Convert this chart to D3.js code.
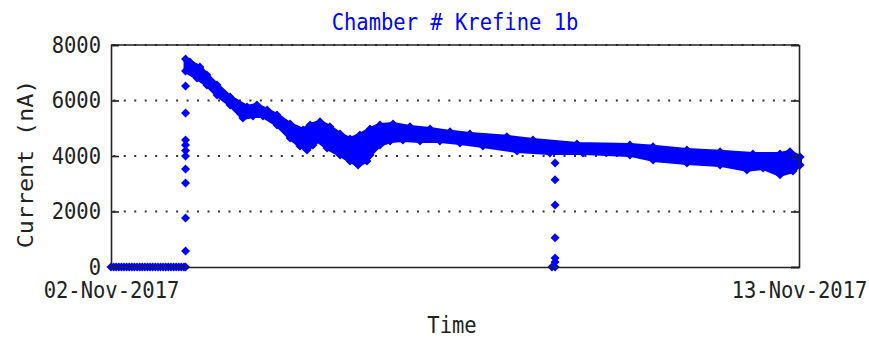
<!DOCTYPE html>
<html>
<head>
<meta charset="utf-8">
<script src="https://cdn.jsdelivr.net/npm/d3@7"></script>
<style>
  body { margin: 0; background: #fff; }
  svg { display: block; }
  text { font-family: "DejaVu Sans Mono", monospace; font-size: 20.5px; fill: #222; }
</style>
</head>
<body>
<script>
"use strict";

// chart values (hours after 02-Nov-2017 00:00, current in nA)
const title = "Chamber # Krefine 1b";
const startDay = new Date(2017, 10, 2);
const endDay = new Date(2017, 10, 13);
const yTicks = [0, 2000, 4000, 6000, 8000];
const gridValues = [2000, 4000, 6000, 8000];

// samples sitting at zero before the beam came up
const zeroHours = [
    0, 1, 2, 3, 4, 5, 6, 7, 8, 9, 10, 11, 12, 13, 14, 15,
    16, 17, 18, 19, 20, 21, 22, 23, 24, 25, 26, 27, 28, 28.6
];

// isolated points while the current ramps up / drops out
const rampPoints = [
    [28.6, 580], [28.6, 1770], [28.6, 3030], [28.6, 3530], [28.6, 4000],
    [28.6, 4200], [28.6, 4400], [28.6, 4580], [28.6, 5550], [28.6, 6520]
];
const dropPoints = [
    [169.2, 0], [170.4, 0], [170.4, 180], [170.4, 320], [170.4, 1050],
    [170.4, 2230], [170.4, 3140], [170.4, 3750]
];

// upper and lower edge of the dense band of readings
const bandTop = [
    [28.6, 7500], [30.3, 7390], [34.1, 7210], [36.8, 6920], [40.7, 6560],
    [45.7, 6130], [52.2, 5770], [56.0, 5840], [59.9, 5660], [63.7, 5480],
    [68.7, 5150], [73.7, 4940], [76.4, 5120], [80.2, 5230], [84.0, 5050],
    [87.9, 4790], [91.7, 4610], [95.5, 4760], [99.4, 4970], [103.2, 5120],
    [108.2, 5150], [114.7, 5050], [122.4, 4970], [130.1, 4870], [137.7, 4790],
    [151.9, 4690], [161.9, 4580], [178.8, 4430], [199.1, 4400], [208.0, 4330],
    [221.0, 4220], [233.7, 4150], [246.3, 4070], [256.7, 4070], [260.5, 4150],
    [264.4, 3960]
];
const bandBottom = [
    [28.6, 7060], [33.0, 6810], [36.8, 6560], [40.7, 6200], [45.7, 5840],
    [50.6, 5370], [54.5, 5440], [58.3, 5440], [63.7, 5120], [68.7, 4650],
    [72.5, 4360], [75.2, 4220], [77.5, 4400], [79.0, 4580], [82.9, 4290],
    [87.9, 4040], [91.7, 3820], [94.8, 3680], [98.2, 3820], [99.4, 4040],
    [103.2, 4400], [107.1, 4540], [112.0, 4580], [118.6, 4540], [126.2, 4540],
    [133.9, 4470], [142.7, 4360], [155.8, 4180], [168.4, 4110], [181.1, 4110],
    [199.1, 4040], [208.0, 3860], [221.0, 3750], [233.7, 3680], [244.0, 3500],
    [250.2, 3570], [256.7, 3320], [261.7, 3460], [264.4, 3680]
];

const width = 869, height = 338;
const margin = { top: 45, right: 70, bottom: 71, left: 111 };
const plotW = width - margin.left - margin.right;
const plotH = height - margin.top - margin.bottom;
const blue = "#0000ff";
const stretch = "scale(1,1.14)";

const toDate = h => new Date(+startDay + h * 3600e3);

const x = d3.scaleTime().domain([startDay, endDay]).range([0, plotW]);
const y = d3.scaleLinear().domain([0, 8000]).range([plotH, 0]);

const svg = d3.select("body").append("svg")
    .attr("width", width)
    .attr("height", height);

svg.append("rect").attr("width", width).attr("height", height).attr("fill", "#fff");

const g = svg.append("g").attr("transform", `translate(${margin.left},${margin.top})`);

// dotted grid, behind the data
g.append("g").selectAll("line").data(gridValues).join("line")
    .attr("x1", 2.3).attr("x2", plotW)
    .attr("y1", d => y(d)).attr("y2", d => y(d))
    .attr("stroke", "#333")
    .attr("stroke-width", 2)
    .attr("stroke-dasharray", "2,8.47");

// band of dense readings
const line = d3.line().x(d => x(toDate(d[0]))).y(d => y(d[1]));
const outline = bandTop.concat(bandBottom.slice().reverse());
const zeroPoints = zeroHours.map(h => [h, 0]);

g.append("path")
    .attr("d", line(outline) + "Z")
    .attr("fill", blue)
    .attr("stroke", blue)
    .attr("stroke-width", 4)
    .attr("stroke-linejoin", "round");

// the zero readings overlap into one thick run
g.append("path")
    .attr("d", line(zeroPoints))
    .attr("fill", "none")
    .attr("stroke", blue)
    .attr("stroke-width", 6);

const diamond = "M0,-4.5L4.5,0L0,4.5L-4.5,0Z";
const points = bandTop.concat(bandBottom, rampPoints, dropPoints, zeroPoints);

g.append("g").selectAll("path").data(points).join("path")
    .attr("d", diamond)
    .attr("transform", d => `translate(${x(toDate(d[0]))},${y(d[1])})`)
    .attr("fill", blue);

// axes and frame on top
const yAxis = d3.axisLeft(y).tickValues(yTicks).tickSize(-8).tickPadding(10)
    .tickFormat(d3.format("d"));
const yAxisRight = d3.axisRight(y).tickValues(yTicks).tickSize(-8).tickFormat("");
const xAxis = d3.axisBottom(x).tickValues([startDay, endDay]).tickSize(0)
    .tickFormat(d3.timeFormat("%d-%b-%Y"));

const styleAxis = sel => {
    sel.select(".domain").attr("stroke", "#222").attr("stroke-width", 1.6);
    sel.selectAll(".tick line").attr("stroke", "#222").attr("stroke-width", 1.6);
    sel.selectAll("text").attr("font-size", null).attr("font-family", null);
};

g.append("g").call(yAxis).call(styleAxis)
    .selectAll(".tick text").attr("transform", stretch);

g.append("g").attr("transform", `translate(${plotW},0)`).call(yAxisRight).call(styleAxis);

g.append("g").attr("transform", `translate(0,${plotH})`).call(xAxis).call(styleAxis)
    .selectAll(".tick text")
    .attr("y", 0).attr("dy", "0.35em")
    .attr("transform", `translate(0,23) ${stretch}`);

g.append("line")
    .attr("x1", 0).attr("x2", plotW).attr("y1", 0).attr("y2", 0)
    .attr("stroke", "#222").attr("stroke-width", 1.6);

// titles
svg.append("text")
    .attr("transform", `translate(${margin.left + plotW / 2},22) ${stretch}`)
    .attr("text-anchor", "middle").attr("dy", "0.35em")
    .style("fill", blue)
    .text(title);

svg.append("text")
    .attr("transform", `translate(26,${margin.top + plotH / 2 + 8}) rotate(-90) scale(1.14,1)`)
    .attr("text-anchor", "middle").attr("dy", "0.35em")
    .text("Current (nA)");

svg.append("text")
    .attr("transform", `translate(${margin.left + plotW / 2 - 3},325) ${stretch}`)
    .attr("text-anchor", "middle").attr("dy", "0.35em")
    .text("Time");
</script>
</body>
</html>
